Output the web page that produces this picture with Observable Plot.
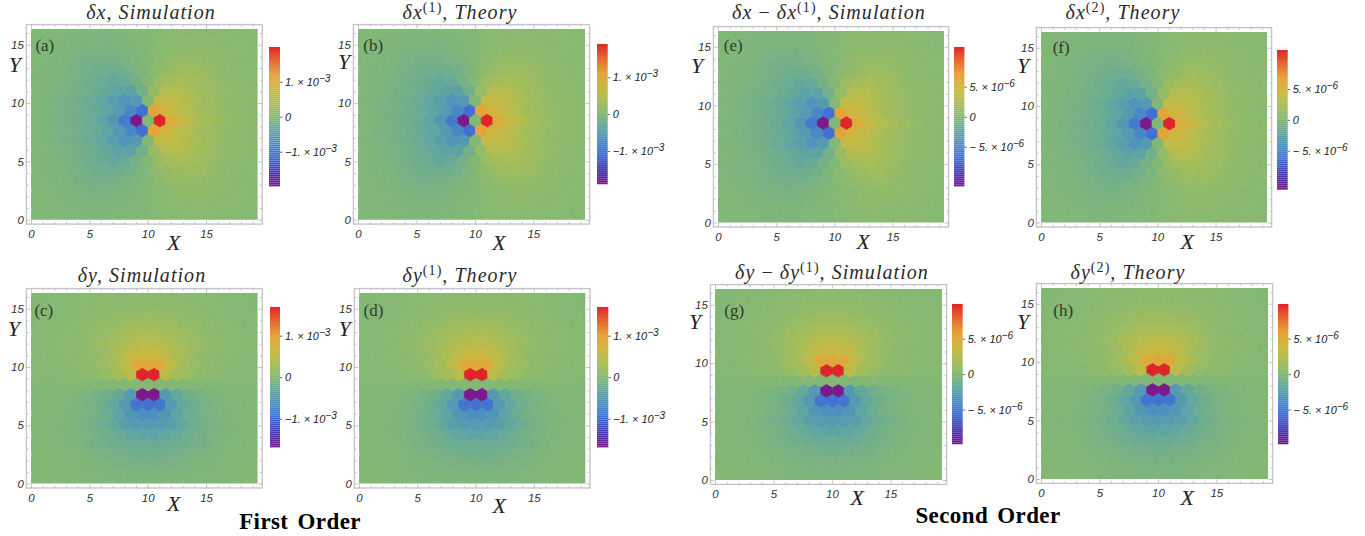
<!DOCTYPE html>
<html><head><meta charset="utf-8">
<script src="https://cdn.jsdelivr.net/npm/d3@7"></script>
<script src="https://cdn.jsdelivr.net/npm/@observablehq/plot@0.6"></script>
<style>
html,body{margin:0;padding:0;background:#fff;overflow:hidden}
#page{position:relative;width:1365px;height:536px;overflow:hidden}
#page>svg,#page>figure{position:absolute;margin:0}
svg g[aria-label="dot"]{filter:blur(0.3px)}
.ttl{position:absolute;transform:translate(-50%,-50%);white-space:nowrap;font:italic 20px "Liberation Serif",serif;letter-spacing:1.05px;color:#2a2a2a}
.ttl sup{font-style:normal;font-size:14px;line-height:0;vertical-align:7px}
.ttl span{font-style:normal}
.sec{position:absolute;transform:translate(-50%,-50%);white-space:nowrap;font:bold 23px "Liberation Serif",serif;letter-spacing:0.4px;color:#000;word-spacing:3px}
</style></head><body><div id="page"></div>
<script>
// Cell values, in percent of each panel's colour-bar maximum. Row 0 is the bottom row.
const dxRows = [
 [0,-1,-1,-2,-2,-2,-2,-2,-1,-1,0,1,2,2,2,2,2,1,1,1],
 [-1,-1,-2,-2,-3,-3,-3,-2,-2,-1,1,2,3,3,3,3,3,2,1,1],
 [-1,-1,-2,-3,-4,-4,-4,-4,-3,-1,0,2,4,5,5,4,3,3,2,1],
 [-1,-2,-3,-4,-5,-6,-6,-5,-3,-1,1,3,6,7,7,6,4,3,2,1],
 [-1,-2,-3,-4,-6,-8,-9,-8,-6,-3,0,4,8,10,10,8,6,4,3,2],
 [-2,-3,-4,-6,-8,-10,-12,-11,-8,-3,4,9,13,14,12,9,6,4,3,2],
 [-2,-3,-4,-5,-8,-11,-14,-17,-15,-8,0,13,18,19,16,12,8,5,4,2],
 [-2,-3,-5,-7,-9,-13,-17,-22,-22,-9,10,25,26,21,16,11,8,6,4,2],
 [-2,-3,-5,-7,-10,-14,-19,-26,-34,-30,0,34,34,28,20,14,10,7,5,3],
 [-2,-4,-6,-8,-11,-15,-21,-30,-42,-56,56,44,34,25,17,12,8,6,4,2],
 [-2,-3,-5,-7,-10,-14,-20,-31,-50,-100,0,100,50,36,25,18,12,8,5,3],
 [-2,-4,-6,-8,-11,-15,-21,-30,-42,-56,56,44,34,25,17,12,8,6,4,2],
 [-2,-3,-5,-7,-10,-14,-19,-26,-34,-30,0,34,34,28,20,14,10,7,5,3],
 [-2,-3,-5,-7,-9,-13,-17,-22,-22,-9,10,25,26,21,16,11,8,6,4,2],
 [-2,-3,-4,-5,-8,-11,-14,-17,-15,-8,0,13,18,19,16,12,8,5,4,2],
 [-2,-3,-4,-6,-8,-10,-12,-11,-8,-3,4,9,13,14,12,9,6,4,3,2],
 [-1,-2,-3,-4,-6,-8,-9,-8,-6,-3,0,4,8,10,10,8,6,4,3,2],
 [-1,-2,-3,-4,-5,-6,-6,-5,-3,-1,1,3,6,7,7,6,4,3,2,1],
 [-1,-1,-2,-3,-4,-4,-4,-4,-3,-1,0,2,4,5,5,4,3,3,2,1],
 [-1,-1,-2,-2,-3,-3,-3,-2,-2,-1,1,2,3,3,3,3,3,2,1,1]
];
const dyRows = [
 [0,0,0,-1,-1,-2,-2,-2,-2,-3,-3,-3,-2,-2,-2,-2,-1,-1,0,0],
 [0,0,-1,-1,-2,-2,-3,-3,-4,-4,-4,-4,-3,-3,-2,-2,-1,-1,0,0],
 [0,0,-1,-1,-2,-3,-4,-5,-6,-6,-6,-6,-6,-5,-4,-3,-2,-1,-1,0],
 [0,-1,-1,-2,-3,-5,-6,-8,-9,-10,-10,-9,-8,-6,-5,-3,-2,-1,-1,0],
 [0,-1,-1,-2,-4,-6,-8,-10,-13,-14,-14,-14,-13,-10,-8,-6,-4,-2,-1,-1],
 [-1,-1,-2,-3,-5,-8,-11,-15,-19,-21,-21,-19,-15,-11,-8,-5,-3,-2,-1,-1],
 [-1,-1,-2,-3,-5,-8,-12,-18,-24,-28,-30,-28,-24,-18,-12,-8,-5,-3,-2,-1],
 [-1,-1,-2,-3,-5,-8,-13,-21,-32,-38,-38,-32,-21,-13,-8,-5,-3,-2,-1,-1],
 [-1,-1,-1,-2,-4,-6,-11,-18,-30,-52,-54,-52,-30,-18,-11,-6,-4,-2,-1,-1],
 [-1,-1,-1,-2,-4,-6,-10,-17,-30,-100,-100,-30,-17,-10,-6,-4,-2,-1,-1,-1],
 [0,0,0,0,0,0,0,0,0,0,0,0,0,0,0,0,0,0,0,0],
 [1,1,1,2,4,6,10,17,30,100,100,30,17,10,6,4,2,1,1,1],
 [1,1,1,2,4,6,11,18,30,52,54,52,30,18,11,6,4,2,1,1],
 [1,1,2,3,5,8,13,21,32,38,38,32,21,13,8,5,3,2,1,1],
 [1,1,2,3,5,8,12,18,24,28,30,28,24,18,12,8,5,3,2,1],
 [1,1,2,3,5,8,11,15,19,21,21,19,15,11,8,5,3,2,1,1],
 [0,1,1,2,4,6,8,10,13,14,14,14,13,10,8,6,4,2,1,1],
 [0,1,1,2,3,5,6,8,9,10,10,9,8,6,5,3,2,1,1,0],
 [0,0,1,1,2,3,4,5,6,6,6,6,6,5,4,3,2,1,1,0],
 [0,0,1,1,2,2,3,3,4,4,4,4,3,3,2,2,1,1,0,0]
];
const rowSpacing = 0.857;            // Y distance between hexagon rows
const xMax = 19.42, yMax = 16.35;    // plotted range of the two axes
const axisTicks = [0, 5, 10, 15];
const minorX = d3.range(0, 20), minorY = d3.range(0, 17);
const firstOrderTicks = [-1e-3, 0, 1e-3];
const firstOrderLabels = ["−1. × 10^−3", "0", "1. × 10^−3"];
const secondOrderTicks = [-5e-6, 0, 5e-6];
const secondOrderLabels = ["− 5. × 10^−6", "0", "5. × 10^−6"];
const colorStops = [-1, -0.8, -0.6, -0.4, -0.2, 0, 0.2, 0.4, 0.6, 0.8, 1];
const colorRamp = ["#7a1a8c","#4738b5","#4068d6","#4a8cc4","#5fa5a2","#83b874","#a9bd55","#cdb83f","#e6a037","#e5682e","#e0252a"];

const panels = [
 {tag:"(a)",rows:dxRows,peak:1.99e-3,ticks:firstOrderTicks,labels:firstOrderLabels,title:'δx, Simulation',
  d:[30.7,257.3,29.3,220],bar:[269,280,47.3,186.7],X:[173,243],Y:[14,65],T:[44,45],H:[151,12]},
 {tag:"(b)",rows:dxRows,peak:1.9e-3,ticks:firstOrderTicks,labels:firstOrderLabels,title:'δx<sup>(1)</sup>, Theory',
  d:[358.3,585.3,29.3,220],bar:[597.3,608,44,184.3],X:[498.7,243],Y:[344,62],T:[373,45],H:[460,12]},
 {tag:"(c)",rows:dyRows,peak:1.69e-3,ticks:firstOrderTicks,labels:firstOrderLabels,title:'δy, Simulation',
  d:[30.7,257.3,292.7,483.3],bar:[270,280,307.3,447.7],X:[173,503],Y:[13,328],T:[43,310],H:[142,275]},
 {tag:"(d)",rows:dyRows,peak:1.69e-3,ticks:firstOrderTicks,labels:firstOrderLabels,title:'δy<sup>(1)</sup>, Theory',
  d:[359,585.3,292.7,483.3],bar:[597,608.3,307.3,447.7],X:[498.7,505],Y:[344,328],T:[373,310],H:[460,275]},
 {tag:"(e)",rows:dxRows,peak:11.6e-6,ticks:secondOrderTicks,labels:secondOrderLabels,title:'δx <span>−</span> δx<sup>(1)</sup>, Simulation',
  d:[718.3,944.3,30.7,222.3],bar:[954.3,964.7,47.3,186.7],X:[863,241],Y:[697,65],T:[733,45],H:[829,12]},
 {tag:"(f)",rows:dxRows,peak:11.3e-6,ticks:secondOrderTicks,labels:secondOrderLabels,title:'δx<sup>(2)</sup>, Theory',
  d:[1041.3,1267.3,31.7,222.3],bar:[1277,1287.7,50,189.7],X:[1187,241],Y:[1023,65],T:[1061,47],H:[1123,12]},
 {tag:"(g)",rows:dyRows,peak:9.9e-6,ticks:secondOrderTicks,labels:secondOrderLabels,title:'δy <span>−</span> δy<sup>(1)</sup>, Simulation',
  d:[715.3,942.3,289.3,480.3],bar:[952,962.7,304,444.3],X:[857,498],Y:[695,322],T:[734,310],H:[832,272]},
 {tag:"(h)",rows:dyRows,peak:9.9e-6,ticks:secondOrderTicks,labels:secondOrderLabels,title:'δy<sup>(2)</sup>, Theory',
  d:[1041.3,1268.3,288.3,479.3],bar:[1278.3,1288.7,304,444.3],X:[1187,498],Y:[1023,322],T:[1063,310],H:[1128,272]}
];
const sections = [{text:"First Order",x:300,y:522},{text:"Second Order",x:988,y:516}];

const page = document.getElementById("page");
const SANS = '"Liberation Sans",Arial,sans-serif', SERIF = '"Liberation Serif",serif';
const SVGNS = "http://www.w3.org/2000/svg";
const colorOf = p => ({type:"linear", domain:colorStops.map(s=>s*p.peak), range:colorRamp, clamp:true});

function place(el,left,top){ el.style.left=left+"px"; el.style.top=top+"px"; page.appendChild(el); }

function cellsOf(p){
  const out=[];
  p.rows.forEach((row,k)=>row.forEach((pct,i)=>out.push({x:i+(k%2?0.5:0),y:k*rowSpacing,v:pct/100*p.peak})));
  return out;
}

function raiseExponents(svg){
  svg.querySelectorAll("text").forEach(t=>{
    const holder=[...t.querySelectorAll("tspan")].find(s=>s.textContent.includes("^"))||t;
    if(!holder.textContent.includes("^")) return;
    const [base,exp]=holder.textContent.split("^");
    holder.textContent=base;
    const s=document.createElementNS(SVGNS,"tspan");
    s.setAttribute("dy","-4");s.setAttribute("font-size","10");s.textContent=exp;
    holder.appendChild(s);
  });
}

function drawPanel(p){
  const [L,R,T,B]=p.d, ml=35, mr=10, mt=10, mb=32;
  const kx=(R-L)/xMax, ky=(B-T)/yMax;
  const ux=px=>(px-L)/kx, uy=py=>(B-py)/ky;
  const gx=4.6/kx, gy=4.4/ky;              // gap between hexagon area and frame
  const maj=4/ky, min=2.2/ky, majx=4/kx, minx=2.2/kx;
  const x0=-gx,x1=xMax+gx,y0=-gy,y1=yMax+gy;
  const tickStyle={stroke:"#b5b5b5",strokeWidth:0.8};
  const minorXs=minorX.filter(v=>!axisTicks.includes(v)), minorYs=minorY.filter(v=>!axisTicks.includes(v));
  const svg=Plot.plot({
    width:ml+(R-L)+mr,height:mt+(B-T)+mb,marginLeft:ml,marginRight:mr,marginTop:mt,marginBottom:mb,
    x:{domain:[0,xMax],axis:null},y:{domain:[0,yMax],axis:null},
    color:colorOf(p),style:{background:"transparent",overflow:"visible"},
    marks:[
      Plot.hexagon(cellsOf(p),{x:"x",y:"y",fill:d=>d.v,stroke:d=>d.v,strokeWidth:0.7,r:kx*0.5,clip:true}),
      Plot.rect([0],{x1:x0,x2:x1,y1:y0,y2:y1,fill:"none",stroke:"#c6c6c6",strokeWidth:1.4}),
      Plot.ruleX(minorXs,{y1:y0,y2:y0+min,...tickStyle}),
      Plot.ruleX(minorXs,{y1:y1,y2:y1-min,...tickStyle}),
      Plot.ruleX(axisTicks,{y1:y0,y2:y0+maj,...tickStyle}),
      Plot.ruleX(axisTicks,{y1:y1,y2:y1-maj,...tickStyle}),
      Plot.ruleY(minorYs,{x1:x0,x2:x0+minx,...tickStyle}),
      Plot.ruleY(minorYs,{x1:x1,x2:x1-minx,...tickStyle}),
      Plot.ruleY(axisTicks,{x1:x0,x2:x0+majx,...tickStyle}),
      Plot.ruleY(axisTicks,{x1:x1,x2:x1-majx,...tickStyle}),
      Plot.text(axisTicks,{x:d=>d,y:y0,dy:9.5,text:d=>String(d),fontFamily:SANS,fontStyle:"italic",fontSize:11.5,fill:"#333"}),
      Plot.text(axisTicks,{y:d=>d,x:x0,dx:-3,textAnchor:"end",text:d=>String(d),fontFamily:SANS,fontStyle:"italic",fontSize:11.5,fill:"#333"}),
      Plot.text(["X"],{x:ux(p.X[0]),y:uy(p.X[1]),text:d=>d,fontFamily:SERIF,fontStyle:"italic",fontSize:22,fill:"#222"}),
      Plot.text(["Y"],{x:ux(p.Y[0]),y:uy(p.Y[1]),text:d=>d,fontFamily:SERIF,fontStyle:"italic",fontSize:22,fill:"#222"}),
      Plot.text([p.tag],{x:ux(p.T[0]),y:uy(p.T[1]),text:d=>d,fontFamily:SERIF,fontSize:17,fill:"#2c3a2c"})
    ]
  });
  place(svg,L-ml,T-mt);
}

function drawBar(p){
  const [l,r,t,b]=p.bar, w=r-l, h=b-t, mt=10, mb=10, mr=70;
  const n=70, step=2*p.peak/n;
  const stops=d3.range(n).map(i=>-p.peak+i*step);
  const ticks=p.ticks.map((v,i)=>({v,label:p.labels[i]}));
  const svg=Plot.plot({
    width:w+mr,height:h+mt+mb,marginLeft:0,marginRight:mr,marginTop:mt,marginBottom:mb,
    x:{domain:[0,1],axis:null},y:{domain:[-p.peak,p.peak],axis:null},
    color:colorOf(p),style:{background:"transparent",overflow:"visible"},
    marks:[
      Plot.rect(stops,{x1:0,x2:1,y1:d=>d,y2:d=>d+step*1.02,fill:d=>d+step/2}),
      Plot.ruleY(p.ticks,{x1:1,x2:1+2.5/w,stroke:"#444",strokeWidth:0.8}),
      Plot.text(ticks,{x:1,y:"v",dx:4.5,textAnchor:"start",text:"label",fontFamily:SANS,fontStyle:"italic",fontSize:11,fill:"#222"})
    ]
  });
  raiseExponents(svg);
  place(svg,l,t-mt);
}

panels.forEach(p=>{
  drawPanel(p);
  drawBar(p);
  const h=document.createElement("div");
  h.className="ttl"; h.innerHTML=p.title;
  h.style.left=p.H[0]+"px"; h.style.top=p.H[1]+"px";
  page.appendChild(h);
});
sections.forEach(s=>{
  const e=document.createElement("div");
  e.className="sec"; e.textContent=s.text;
  e.style.left=s.x+"px"; e.style.top=s.y+"px";
  page.appendChild(e);
});
</script></body></html>
